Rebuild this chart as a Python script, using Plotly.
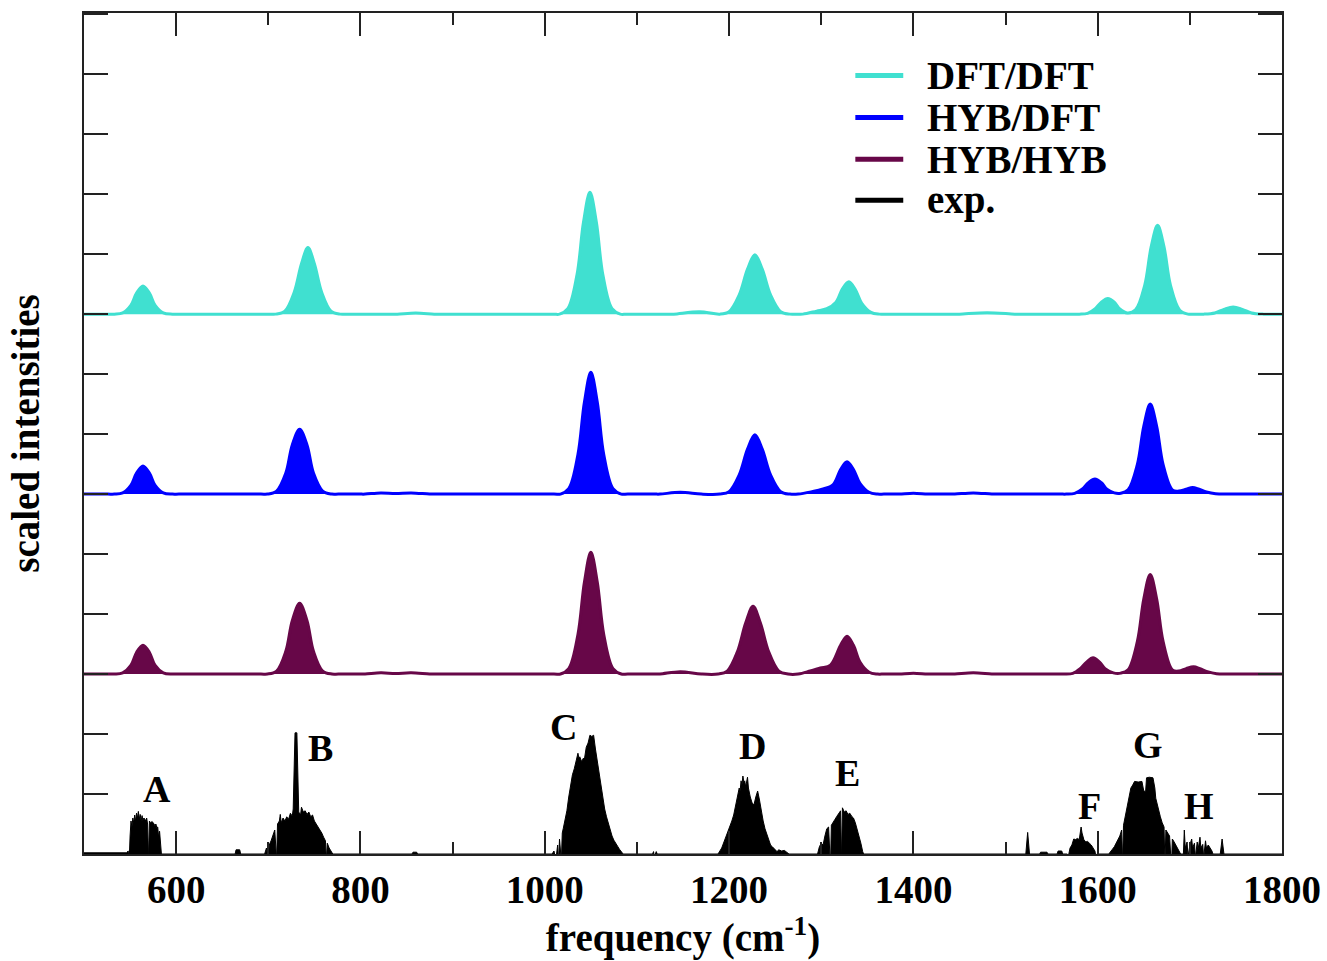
import plotly.graph_objects as go

# ---------------- data ----------------
# DFT/DFT simulated spectrum (relative intensity above its own baseline)
dft_x = [500, 526, 533, 542, 551, 557, 564, 571, 577, 586, 596, 603,
         701, 708, 718, 728, 736, 743, 750, 758, 768, 778, 785,
         834, 840, 860, 880, 886,
         1009, 1016, 1025, 1035, 1042, 1049, 1056, 1063, 1073, 1082, 1089,
         1134, 1140, 1168, 1190, 1200, 1211, 1220, 1228, 1236, 1245, 1256, 1266, 1273,
         1280, 1295, 1306, 1316, 1323, 1330, 1337, 1344, 1354, 1363, 1370,
         1444, 1450, 1480, 1510, 1516,
         1573, 1580, 1589, 1597, 1604, 1611, 1618, 1624, 1632, 1641, 1651, 1658, 1665, 1672, 1679, 1689,
         1698, 1705,
         1709, 1715, 1727, 1737, 1747, 1757, 1767, 1780, 1787, 1800]
dft_y = [0, 0, 0, 0.02, 0.15, 0.35, 0.47, 0.35, 0.15, 0.02, 0, 0,
         0, 0, 0.05, 0.36, 0.84, 1.11, 0.84, 0.36, 0.05, 0, 0,
         0, 0, 0.02, 0, 0,
         0, 0, 0.09, 0.66, 1.53, 2.03, 1.53, 0.66, 0.09, 0, 0,
         0, 0, 0.04, 0, 0.04, 0.32, 0.75, 0.99, 0.75, 0.32, 0.04, 0, 0,
         0, 0.05, 0.09, 0.2, 0.42, 0.54, 0.41, 0.18, 0.03, 0, 0,
         0, 0, 0.025, 0, 0,
         0, 0, 0.012, 0.085, 0.2, 0.26, 0.2, 0.085, 0.02, 0.07, 0.48, 1.12, 1.48, 1.12, 0.48, 0.065,
         0, 0,
         0, 0, 0.02, 0.08, 0.12, 0.08, 0.02, 0, 0, 0]

# HYB/DFT simulated spectrum
hd_x = [500, 526, 533, 542, 551, 557, 564, 571, 577, 586, 596, 603,
        692, 699, 709, 719, 726, 734, 742, 749, 759, 769, 776,
        799, 805, 822, 838, 855, 875, 881,
        1010, 1017, 1026, 1036, 1043, 1050, 1057, 1064, 1074, 1083, 1090,
        1119, 1125, 1147, 1170,
        1190, 1200, 1211, 1220, 1228, 1236, 1245, 1256, 1266,
        1275, 1290, 1301, 1313, 1321, 1328, 1335, 1342, 1352, 1361, 1368,
        1379, 1385, 1400, 1415, 1421, 1439, 1445, 1465, 1485, 1491,
        1559, 1566, 1575, 1583, 1590, 1597, 1604, 1610, 1618, 1625, 1633, 1643, 1650, 1657, 1664, 1671, 1681,
        1688, 1696, 1703, 1710, 1718, 1728, 1740, 1747, 1800]
hd_y = [0, 0, 0, 0.02, 0.15, 0.35, 0.47, 0.35, 0.15, 0.02, 0, 0,
        0, 0, 0.05, 0.35, 0.82, 1.08, 0.82, 0.35, 0.05, 0, 0,
        0, 0, 0.02, 0.01, 0.02, 0, 0,
        0, 0, 0.09, 0.66, 1.53, 2.03, 1.53, 0.66, 0.09, 0, 0,
        0, 0, 0.03, 0,
        0, 0.04, 0.32, 0.75, 0.99, 0.75, 0.32, 0.04, 0,
        0, 0.04, 0.08, 0.16, 0.41, 0.54, 0.41, 0.18, 0.03, 0, 0,
        0, 0, 0.015, 0, 0, 0, 0, 0.02, 0, 0,
        0, 0, 0.011, 0.08, 0.19, 0.25, 0.19, 0.08, 0.02, 0.015, 0.07, 0.49, 1.13, 1.5, 1.13, 0.49, 0.07,
        0.05, 0.08, 0.11, 0.08, 0.035, 0.005, 0, 0, 0]

# HYB/HYB simulated spectrum
hh_x = [500, 526, 533, 542, 551, 557, 564, 571, 577, 586, 596, 603,
        692, 699, 709, 719, 726, 734, 742, 749, 759, 769, 776,
        799, 805, 822, 838, 855, 875, 881,
        1010, 1017, 1026, 1036, 1043, 1050, 1057, 1064, 1074, 1083, 1090,
        1119, 1125, 1147, 1170,
        1188, 1198, 1209, 1218, 1226, 1234, 1243, 1254, 1264,
        1275, 1288, 1299, 1310, 1321, 1328, 1335, 1342, 1352, 1361, 1368,
        1379, 1385, 1400, 1415, 1421, 1439, 1445, 1465, 1485, 1491,
        1557, 1564, 1573, 1581, 1588, 1595, 1602, 1608, 1617, 1625, 1633, 1643, 1650, 1657, 1664, 1671, 1681,
        1688, 1696, 1704, 1711, 1719, 1729, 1741, 1748, 1800]
hh_y = [0, 0, 0, 0.02, 0.15, 0.36, 0.48, 0.36, 0.15, 0.02, 0, 0,
        0, 0, 0.05, 0.38, 0.89, 1.18, 0.89, 0.38, 0.05, 0, 0,
        0, 0, 0.02, 0.01, 0.02, 0, 0,
        0, 0, 0.09, 0.66, 1.53, 2.03, 1.53, 0.66, 0.09, 0, 0,
        0, 0, 0.04, 0,
        0, 0.05, 0.37, 0.85, 1.13, 0.85, 0.37, 0.05, 0,
        0, 0.05, 0.1, 0.15, 0.48, 0.63, 0.48, 0.2, 0.03, 0, 0,
        0, 0, 0.015, 0, 0, 0, 0, 0.02, 0, 0,
        0, 0, 0.012, 0.09, 0.2, 0.27, 0.2, 0.09, 0.02, 0.015, 0.07, 0.54, 1.25, 1.66, 1.25, 0.54, 0.07,
        0.05, 0.09, 0.12, 0.09, 0.04, 0.005, 0, 0, 0]

# experimental spectrum
exp_x = [500, 546,
         548, 549, 550, 551, 552, 553, 554, 555, 556, 557, 558, 559, 560, 561, 562, 563, 564, 565, 566,
         567, 568, 569, 570, 571, 572, 574, 576, 577, 578, 579, 580, 581, 582, 583, 584,
         664, 665, 669, 670,
         696, 698, 700, 701, 703, 705, 707, 709, 710, 712, 713, 714, 716, 718, 720, 722, 724, 726, 727,
         728, 729, 731, 732, 733, 735, 736, 738, 740, 742, 744, 746, 748, 750, 752, 754, 756, 758, 760,
         762, 763, 764, 766, 768, 770,
         856, 857, 861, 862,
         1008, 1010, 1012, 1014, 1015, 1016, 1018, 1019, 1020, 1022, 1024, 1026, 1028, 1030, 1032, 1034,
         1036, 1037, 1038, 1040, 1042, 1043, 1045, 1047, 1049, 1051, 1053, 1055, 1057, 1059, 1061, 1063,
         1065, 1067, 1069, 1071, 1073, 1075, 1077, 1079, 1081, 1083, 1085,
         1117, 1118, 1119, 1121, 1122,
         1188, 1192, 1195, 1198, 1201, 1203, 1205, 1207, 1209, 1211, 1212, 1213, 1214, 1215, 1216, 1217,
         1218, 1219, 1220, 1221, 1222, 1223, 1225, 1227, 1229, 1231, 1233, 1235, 1237, 1239, 1241, 1243,
         1245, 1247, 1250, 1252, 1254, 1257, 1260, 1263, 1265,
         1296, 1298, 1300, 1302, 1304, 1306, 1308, 1310, 1311, 1313, 1315, 1317, 1319, 1321, 1322, 1323,
         1325, 1327, 1329, 1331, 1333, 1335, 1337, 1339, 1341, 1343, 1345, 1346,
         1522, 1524, 1526,
         1537, 1538, 1545, 1546, 1556, 1557, 1561, 1562,
         1567, 1568, 1570, 1572, 1574, 1576, 1578, 1580, 1581, 1582, 1583, 1585, 1587, 1589, 1591, 1593,
         1595, 1597, 1598, 1599,
         1612, 1614, 1616, 1618, 1620, 1622, 1624, 1626, 1627, 1628, 1630, 1632, 1634, 1636, 1638, 1640,
         1644, 1648, 1650, 1652, 1653, 1656, 1660, 1662, 1663, 1666, 1668, 1670, 1672, 1673, 1674, 1676,
         1678, 1680, 1681, 1683, 1685, 1687, 1689, 1690,
         1693, 1694, 1695, 1697, 1698, 1700, 1702, 1703, 1705, 1706, 1708, 1709, 1711, 1712, 1714, 1715,
         1717, 1718, 1720, 1722, 1724, 1725, 1733, 1735, 1737, 1800]
exp_y = [0.02, 0.02,
         0.05, -0.13, 0.3, 0.55, 0.45, 0.6, 0.52, 0.65, 0.55, 0.68, 0.6, 0.71, 0.58, 0.66, 0.55, 0.64, 0.56, 0.6, 0.58,
         0.55, 0.6, 0.5, -0.1, 0.55, 0.52, 0.54, 0.5, 0.47, 0.5, 0.44, 0.45, 0.28, 0.38, 0.08, 0.0,
         0, 0.07, 0.07, 0,
         0, 0.1, -0.13, 0.15, 0.22, 0.3, 0.4, -0.1, 0.5, 0.55, 0.66, 0.52, 0.6, 0.55, 0.62, 0.58, 0.68, 0.63, 0.75,
         1.4, 2.02, 2.02, 1.3, 0.7, 0.65, 0.78, 0.7, 0.72, 0.66, 0.7, 0.62, 0.65, 0.55, 0.5, 0.45, 0.42, 0.35, 0.28,
         0.22, -0.1, 0.18, 0.1, 0.05, 0,
         0, 0.03, 0.03, 0,
         0, 0.05, -0.1, 0.15, -0.14, 0.25, -0.12, 0.35, 0.42, 0.55, 0.72, 0.95, 1.15, 1.32, 1.42, 1.55,
         1.68, 1.6, 1.62, 1.54, 1.6, 1.58, 1.78, 1.85, 1.98, 1.96, 1.98, 1.75, 1.55, 1.32, 1.1, 0.92,
         0.75, 0.62, 0.5, 0.4, 0.3, 0.23, 0.17, 0.13, 0.08, 0.04, 0,
         0, 0.04, -0.04, 0.04, 0,
         0, 0.1, 0.22, 0.35, 0.45, 0.55, 0.65, 0.8, 0.92, 1.1, 1.05, 1.22, 1.15, 1.3, 1.2, 1.22,
         1.12, 1.25, 1.28, 1.1, 1.0, 0.95, 0.85, 0.82, 0.95, 1.05, 0.9, 0.7, 0.55, 0.42, 0.32, 0.22,
         0.15, 0.12, 0.08, 0.04, 0.07, 0.05, 0.06, 0.02, 0,
         0, 0.12, 0.18, 0.15, 0.3, 0.42, 0.45, -0.23, 0.48, 0.52, 0.58, 0.63, 0.68, 0.72, -0.12, 0.77,
         0.7, 0.72, 0.66, 0.68, 0.63, 0.6, 0.52, 0.42, 0.32, 0.18, 0.04, 0,
         0, 0.36, 0,
         0, 0.03, 0.03, 0, 0, 0.05, 0.05, 0,
         0, -0.05, 0.1, 0.15, 0.25, 0.24, 0.26, 0.24, 0.35, 0.45, 0.35, 0.24, 0.2, 0.21, 0.18, 0.15,
         0.1, 0.05, -0.04, 0,
         0, 0.05, 0.08, 0.12, 0.18, 0.22, 0.3, 0.4, -0.15, 0.48, 0.65, 0.8, 0.95, 1.1, 1.15, 1.21,
         1.2, 1.21, 1.05, 1.04, 1.27, 1.28, 1.27, 1.1, 0.93, 0.72, 0.62, 0.52, 0.45, -0.2, 0.4, 0.35,
         0.3, -0.23, 0.25, 0.2, 0.14, 0.1, 0.03, 0,
         0, 0.4, 0.1, 0.2, -0.05, 0.15, 0.25, 0.1, 0.18, -0.06, 0.2, 0.08, 0.28, 0.1, 0.16, -0.06,
         0.22, 0.1, 0.15, 0.1, 0.05, 0, 0, 0.25, 0, 0]

series_names = ["DFT/DFT", "HYB/DFT", "HYB/HYB", "exp."]
series_colors = ["#40E0D0", "#0000FF", "#670748", "#000000"]
offsets = [9, 6, 3, 0]

band_labels = ["A", "B", "C", "D", "E", "F", "G", "H"]
band_x = [579, 757, 1020, 1225, 1328, 1591, 1655, 1710]
band_y = [1.08, 1.77, 2.12, 1.8, 1.35, 0.8, 1.82, 0.8]

x_ticks = [600, 800, 1000, 1200, 1400, 1600, 1800]

# ---------------- figure ----------------
FONT = "Liberation Serif, Times New Roman, serif"
fig = go.Figure()

calc = [(dft_x, dft_y), (hd_x, hd_y), (hh_x, hh_y)]
for (xs, ys), name, col, off in zip(calc, series_names[:3], series_colors[:3], offsets[:3]):
    fig.add_trace(go.Scatter(x=[500, 1800], y=[off, off], mode="lines",
                             line=dict(color=col, width=0), showlegend=False, hoverinfo="skip"))
    fig.add_trace(go.Scatter(x=xs, y=[v + off for v in ys], mode="lines", name=name,
                             line=dict(color=col, width=3, shape="spline", smoothing=1.0),
                             fill="tonexty", fillcolor=col, showlegend=False))

fig.add_trace(go.Scatter(x=exp_x, y=exp_y, mode="lines", name="exp.",
                         line=dict(color="black", width=1), fill="tozeroy",
                         fillcolor="black", showlegend=False))

# band letters
for lab, bx, by in zip(band_labels, band_x, band_y):
    fig.add_annotation(x=bx, y=by, text=lab, showarrow=False,
                       font=dict(family=FONT, size=38, color="black", weight="bold"),
                       xanchor="center", yanchor="middle")

# manual legend
leg_y = [12.98, 12.28, 11.58, 10.9]
for name, col, ly in zip(series_names, series_colors, leg_y):
    fig.add_shape(type="line", x0=1337, x1=1389, y0=ly, y1=ly, xref="x", yref="y",
                  line=dict(color=col, width=5))
    fig.add_annotation(x=1413, y=ly, text=name, showarrow=False, xanchor="left",
                       yanchor="middle",
                       font=dict(family=FONT, size=39, color="black", weight="bold"))

axis_col = "#222222"
fig.update_xaxes(range=[500, 1800], tickvals=x_ticks, ticks="inside", ticklen=23,
                 tickwidth=2, tickcolor=axis_col, showline=True, linewidth=2,
                 linecolor=axis_col, mirror="allticks", showgrid=False, zeroline=False,
                 minor=dict(dtick=100, tick0=500, ticks="inside", ticklen=12, tickwidth=2,
                            tickcolor=axis_col, showgrid=False),
                 tickfont=dict(family=FONT, size=39, color="black", weight="bold"),
                 title=dict(text="frequency (cm<sup>-1</sup>)", standoff=8,
                            font=dict(family=FONT, size=39, color="black", weight="bold")))
fig.update_yaxes(range=[0, 14.02], dtick=1, tick0=0, ticks="inside", ticklen=24,
                 tickwidth=2, tickcolor=axis_col, showline=True, linewidth=2,
                 linecolor=axis_col, mirror="allticks", showgrid=False, zeroline=False,
                 showticklabels=False,
                 title=dict(text="scaled intensities", standoff=30,
                            font=dict(family=FONT, size=39, color="black", weight="bold")))

fig.update_layout(width=1327, height=961, template="none",
                  margin=dict(l=84, r=45, t=13, b=107),
                  paper_bgcolor="white", plot_bgcolor="white", showlegend=False)

fig.write_html("out.html")
